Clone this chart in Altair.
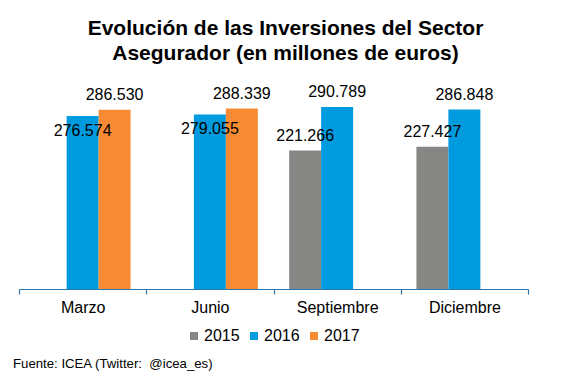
import altair as alt
import pandas as pd

months = ["Marzo", "Junio", "Septiembre", "Diciembre"]
years = ["2015", "2016", "2017"]
v2015 = [None, None, 221.266, 227.427]
v2016 = [276.574, 279.055, 290.789, 286.848]
v2017 = [286.530, 288.339, None, None]
colors = ["#868684", "#009ADE", "#F68B33"]
title_lines = ["Evolución de las Inversiones del Sector", "Asegurador (en millones de euros)"]
source = "Fuente: ICEA (Twitter:\u00a0 @icea_es)"

rows = []
series = {"2015": v2015, "2016": v2016, "2017": v2017}
for i, m in enumerate(months):
    for y in years:
        v = series[y][i]
        if v is None:
            continue
        inside = (y == "2016") and (v2017[i] is not None)
        rows.append({"mes": m, "anio": y, "valor": v, "pos": "inside" if inside else "above"})
df = pd.DataFrame(rows)

FONT = "Liberation Sans"

x_enc = alt.X("mes:N", sort=months, scale=alt.Scale(paddingInner=0, paddingOuter=0),
              axis=alt.Axis(title=None, labelAngle=0, labelFontSize=16, labelColor="black",
                            labelFont=FONT, tickBand="extent", tickSize=5, labelPadding=5,
                            domainColor="#2B78B0", tickColor="#2B78B0", domainWidth=1.2,
                            tickWidth=1.2, grid=False))
xo_enc = alt.XOffset("anio:N", scale=alt.Scale(domain=years, paddingOuter=0.49, paddingInner=0))
y_enc = alt.Y("valor:Q", scale=alt.Scale(domain=[0, 350]), axis=None)

base = alt.Chart(df)

bars = base.mark_bar().encode(
    x=x_enc, xOffset=xo_enc, y=y_enc,
    color=alt.Color("anio:N", scale=alt.Scale(domain=years, range=colors),
                    legend=alt.Legend(title=None, orient="none", direction="horizontal",
                                      legendX=167, legendY=258, symbolType="square",
                                      symbolSize=64, symbolStrokeWidth=0, labelFontSize=16,
                                      labelFont=FONT, labelColor="black", labelOffset=2,
                                      columnPadding=6, padding=0))
)

above = base.transform_filter(alt.datum.pos == "above").mark_text(
    fontSize=16, font=FONT, color="black", baseline="middle", dy=-15
).encode(x=x_enc, xOffset=xo_enc, y=y_enc, text=alt.Text("valor:Q", format=".3f"))

inside = base.transform_filter(alt.datum.pos == "inside").mark_text(
    fontSize=16, font=FONT, color="black", baseline="middle", dy=15
).encode(x=x_enc, xOffset=xo_enc, y=y_enc, text=alt.Text("valor:Q", format=".3f"))

footer = alt.Chart(pd.DataFrame({"t": [source]})).mark_text(
    fontSize=13.2, font=FONT, color="black", align="left", baseline="alphabetic"
).encode(x=alt.value(-6), y=alt.value(298), text="t:N")

chart = alt.layer(bars, above, inside, footer).properties(
    width=509, height=219,
    title=alt.TitleParams(text=title_lines, fontSize=21, font=FONT, fontWeight="bold",
                          color="black", anchor="middle", dx=12, offset=6, lineHeight=25),
    autosize=alt.AutoSizeParams(type="none"),
    padding={"left": 11, "top": 62, "right": 31, "bottom": 85},
).configure_view(strokeWidth=0)

chart.save("out.html", embed_options={"renderer": "svg", "actions": False})
